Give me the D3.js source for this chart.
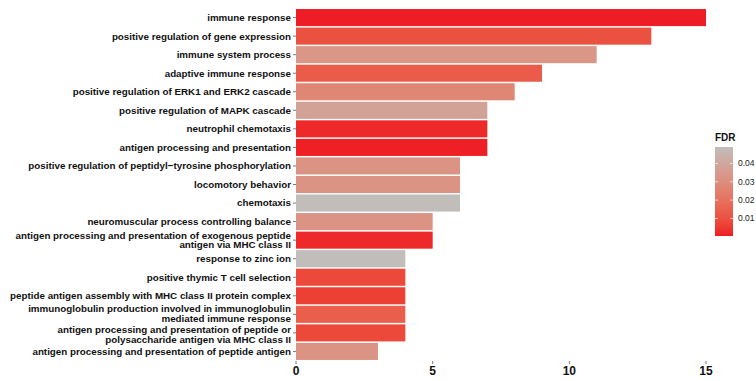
<!DOCTYPE html>
<html>
<head>
<meta charset="utf-8">
<script src="https://cdn.jsdelivr.net/npm/d3@7"></script>
<style>
  html, body { margin: 0; padding: 0; background: #fff; }
  svg { display: block; font-family: "Liberation Sans", Arial, Helvetica, sans-serif; }
</style>
</head>
<body>
<svg id="chart" width="756" height="381"></svg>
<script>
// GO terms, top to bottom
const terms = [
  "immune response",
  "positive regulation of gene expression",
  "immune system process",
  "adaptive immune response",
  "positive regulation of ERK1 and ERK2 cascade",
  "positive regulation of MAPK cascade",
  "neutrophil chemotaxis",
  "antigen processing and presentation",
  "positive regulation of peptidyl\u2212tyrosine phosphorylation",
  "locomotory behavior",
  "chemotaxis",
  "neuromuscular process controlling balance",
  "antigen processing and presentation of exogenous peptide\nantigen via MHC class II",
  "response to zinc ion",
  "positive thymic T cell selection",
  "peptide antigen assembly with MHC class II protein complex",
  "immunoglobulin production involved in immunoglobulin\nmediated immune response",
  "antigen processing and presentation of peptide or\npolysaccharide antigen via MHC class II",
  "antigen processing and presentation of peptide antigen"
];
// gene counts per term
const counts = [15, 13, 11, 9, 8, 7, 7, 7, 6, 6, 6, 5, 5, 4, 4, 4, 4, 4, 3];
// false discovery rate per term
const fdr = [0.0004, 0.010, 0.033, 0.013, 0.027, 0.038, 0.002, 0.0008, 0.032, 0.032,
             0.049, 0.032, 0.002, 0.049, 0.008, 0.006, 0.014, 0.008, 0.032];
const xTicks = [0, 5, 10, 15];
const fdrTicks = [0.01, 0.02, 0.03, 0.04];

const data = terms.map((t, i) => ({ term: t, count: counts[i], fdr: fdr[i] }));

const svg = d3.select("#chart");
const plotLeft = 296, plotRight = 706;

const x = d3.scaleLinear().domain([0, 15]).range([plotLeft, plotRight]);
const y = d3.scaleBand().domain(terms).range([8.3, 360.7]).paddingInner(0.08).paddingOuter(0.04);

const fdrExtent = d3.extent(fdr);
const color = d3.scaleLinear()
  .domain(fdrExtent)
  .range(["#EE1C24", "#C0BDBB"])
  .interpolate(d3.interpolateLab);

// bars
svg.append("g").selectAll("rect")
  .data(data)
  .join("rect")
  .attr("x", x(0))
  .attr("y", d => y(d.term))
  .attr("width", d => x(d.count) - x(0))
  .attr("height", y.bandwidth())
  .attr("fill", d => color(d.fdr));

// y axis: ticks and wrapped labels
const yAxis = svg.append("g").attr("transform", `translate(${plotLeft},0)`);
yAxis.selectAll("line")
  .data(terms)
  .join("line")
  .attr("x1", -3).attr("x2", 0)
  .attr("y1", d => y(d) + y.bandwidth() / 2)
  .attr("y2", d => y(d) + y.bandwidth() / 2)
  .attr("stroke", "#555").attr("stroke-width", 0.8);

// two adjacent wrapped labels are eased apart so their lines do not collide
const labelNudge = { 16: -0.5, 17: 1.5 };
const yLabels = yAxis.selectAll("text")
  .data(terms)
  .join("text")
  .attr("x", -5)
  .attr("text-anchor", "end")
  .attr("font-size", "9.8px")
  .attr("font-weight", "bold")
  .attr("fill", "#111");
yLabels.each(function(d, idx) {
  const lines = d.split("\n");
  const cy = y(d) + y.bandwidth() / 2 + (labelNudge[idx] || 0);
  const lh = 9.6;
  const start = cy - (lines.length - 1) * lh / 2;
  d3.select(this).selectAll("tspan")
    .data(lines)
    .join("tspan")
    .attr("x", -5)
    .attr("y", (l, i) => start + i * lh)
    .attr("dy", "0.35em")
    .text(l => l);
});

// x axis
const xAxis = svg.append("g").attr("transform", "translate(0,361)");
xAxis.selectAll("line")
  .data(xTicks)
  .join("line")
  .attr("x1", d => x(d)).attr("x2", d => x(d))
  .attr("y1", 0).attr("y2", 3)
  .attr("stroke", "#555").attr("stroke-width", 0.8);
xAxis.selectAll("text")
  .data(xTicks)
  .join("text")
  .attr("x", d => x(d))
  .attr("y", 14)
  .attr("text-anchor", "middle")
  .attr("font-size", "12px")
  .attr("font-weight", "bold")
  .attr("fill", "#111")
  .text(d => d);

// colour bar legend
const lgX = 715, lgW = 18, lgTop = 147, lgBottom = 236;
const lgScale = d3.scaleLinear().domain(fdrExtent).range([lgBottom, lgTop]);
const defs = svg.append("defs");
const grad = defs.append("linearGradient")
  .attr("id", "fdrGrad").attr("x1", 0).attr("y1", 1).attr("x2", 0).attr("y2", 0);
d3.range(0, 1.0001, 0.1).forEach(t => {
  grad.append("stop")
    .attr("offset", t)
    .attr("stop-color", color(fdrExtent[0] + t * (fdrExtent[1] - fdrExtent[0])));
});
svg.append("rect")
  .attr("x", lgX).attr("y", lgTop)
  .attr("width", lgW).attr("height", lgBottom - lgTop)
  .attr("fill", "url(#fdrGrad)");

const lg = svg.append("g");
fdrTicks.forEach(v => {
  const ty = lgScale(v);
  lg.append("line").attr("x1", lgX).attr("x2", lgX + 3).attr("y1", ty).attr("y2", ty)
    .attr("stroke", "#fff").attr("stroke-width", 0.8).attr("opacity", 0.8);
  lg.append("line").attr("x1", lgX + lgW - 3).attr("x2", lgX + lgW).attr("y1", ty).attr("y2", ty)
    .attr("stroke", "#fff").attr("stroke-width", 0.8).attr("opacity", 0.8);
  lg.append("text")
    .attr("x", lgX + lgW + 5).attr("y", ty).attr("dy", "0.35em")
    .attr("font-size", "8.5px").attr("fill", "#222")
    .text(v.toFixed(2));
});
lg.append("text")
  .attr("x", lgX).attr("y", 141)
  .attr("font-size", "10px").attr("font-weight", "bold").attr("fill", "#111")
  .text("FDR");
</script>
</body>
</html>
